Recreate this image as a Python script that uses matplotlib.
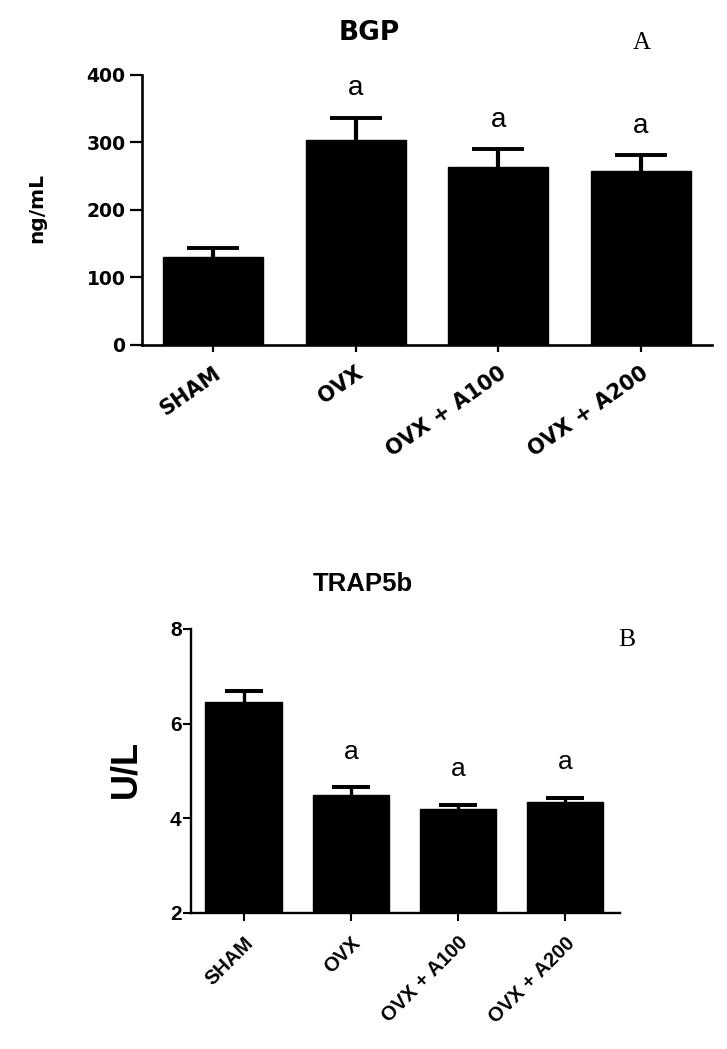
import matplotlib
matplotlib.use("Agg")
import matplotlib.pyplot as plt
import numpy as np

# ---- data ----
categories = ["SHAM", "OVX", "OVX + A100", "OVX + A200"]
bgp_mean = [131, 304, 263, 258]
bgp_err = [12, 32, 27, 23]
bgp_sig = ["", "a", "a", "a"]
bgp_ticks = [0, 100, 200, 300, 400]

trap_mean = [6.46, 4.50, 4.19, 4.35]
trap_err = [0.23, 0.16, 0.10, 0.08]
trap_sig = ["", "a", "a", "a"]
trap_ticks = [2, 4, 6, 8]

W, H = 727, 1049
fig = plt.figure(figsize=(W / 100, H / 100), dpi=100)
fig.patch.set_facecolor("white")


def px_axes(left, right, top, bottom):
    return fig.add_axes([left / W, 1 - bottom / H, (right - left) / W, (bottom - top) / H])


x = np.arange(len(categories))

# ---------------- Top: BGP ----------------
ax1 = px_axes(142, 712, 75, 345)
# error bars drawn behind the bars: the lower half is hidden, only the upper part shows
ax1.errorbar(x, bgp_mean, yerr=bgp_err, fmt="none",
             ecolor="black", elinewidth=3, capsize=19, capthick=2.8, zorder=1)
ax1.bar(x, bgp_mean, width=0.705, color="black", edgecolor="black", zorder=2)
for xi, m, e, s in zip(x, bgp_mean, bgp_err, bgp_sig):
    if s:
        ax1.text(xi, m + e + 44, s, ha="center", va="center",
                 fontsize=20, family="Liberation Sans")
ax1.set_xlim(-0.5, 3.5)
ax1.set_ylim(0, 400)
ax1.set_yticks(bgp_ticks)
ax1.set_yticklabels([str(t) for t in bgp_ticks], fontsize=13.5,
                    fontweight="bold", family="DejaVu Sans")
ax1.set_xticks(x)
ax1.set_xticklabels(categories, rotation=35, ha="right", va="top",
                    rotation_mode="anchor", fontsize=15, fontweight="bold",
                    family="DejaVu Sans")
ax1.tick_params(axis="y", length=8.5, width=1.6, pad=3.5)
ax1.tick_params(axis="x", length=5, width=1.6, pad=8)
for sp in ["top", "right"]:
    ax1.spines[sp].set_visible(False)
for sp in ["left", "bottom"]:
    ax1.spines[sp].set_linewidth(1.9)
    ax1.spines[sp].set_zorder(3)

fig.text(37 / W, 1 - 208 / H, "ng/mL", rotation=90, ha="center", va="center",
         fontsize=14.5, fontweight="bold", family="DejaVu Sans")
fig.text(369 / W, 1 - 33 / H, "BGP", ha="center", va="center",
         fontsize=19, fontweight="bold", family="DejaVu Sans")
fig.text(642 / W, 1 - 43 / H, "A", ha="center", va="center",
         fontsize=18, family="Liberation Serif")

# ---------------- Bottom: TRAP5b ----------------
ax2 = px_axes(191, 620, 629, 913)
ax2.errorbar(x, trap_mean, yerr=trap_err, fmt="none",
             ecolor="black", elinewidth=2.4, capsize=14, capthick=2.9, zorder=1)
ax2.bar(x, trap_mean, width=0.71, color="black", edgecolor="black", zorder=2)
for xi, m, e, s in zip(x, trap_mean, trap_err, trap_sig):
    if s:
        ax2.text(xi, m + e + 0.75, s, ha="center", va="center",
                 fontsize=19, family="Liberation Sans")
ax2.set_xlim(-0.49, 3.51)
ax2.set_ylim(2, 8)
ax2.set_yticks(trap_ticks)
ax2.set_yticklabels([str(t) for t in trap_ticks], fontsize=15,
                    fontweight="bold", family="Liberation Sans")
ax2.set_xticks(x)
ax2.set_xticklabels(categories, rotation=45, ha="right", va="top",
                    rotation_mode="anchor", fontsize=14.5, fontweight="bold",
                    family="Liberation Sans")
ax2.tick_params(axis="y", length=5.8, width=1.5, pad=1)
ax2.tick_params(axis="x", length=5.5, width=1.5, pad=9)
for sp in ["top", "right"]:
    ax2.spines[sp].set_visible(False)
for sp in ["left", "bottom"]:
    ax2.spines[sp].set_linewidth(1.7)
    ax2.spines[sp].set_zorder(3)

fig.text(126 / W, 1 - 769 / H, "U/L", rotation=90, ha="center", va="center",
         fontsize=26, fontweight="bold", family="Liberation Sans")
fig.text(363 / W, 1 - 584 / H, "TRAP5b", ha="center", va="center",
         fontsize=18.5, fontweight="bold", family="Liberation Sans")
fig.text(627 / W, 1 - 640 / H, "B", ha="center", va="center",
         fontsize=18.5, family="Liberation Serif")

fig.savefig("out.png", dpi=100, facecolor="white")
